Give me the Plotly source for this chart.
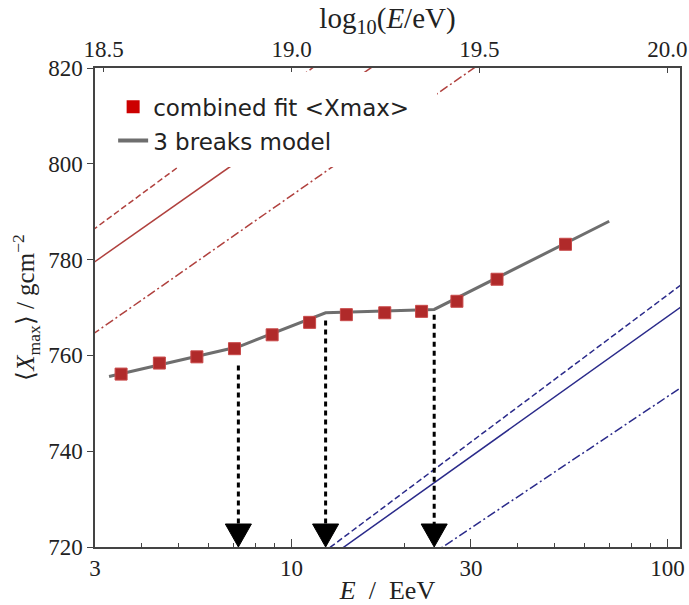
import numpy as np
import plotly.graph_objects as go

# ---------------- data ----------------
# combined fit <Xmax> points (E in EeV, Xmax in g/cm^2)
E_data = [3.52, 4.45, 5.60, 7.05, 8.88, 11.17, 13.99, 17.70, 22.18, 27.54, 35.21, 53.56]
X_data = [756.1, 758.4, 759.7, 761.4, 764.3, 766.9, 768.5, 768.9, 769.2, 771.3, 775.9, 783.2]

# 3 breaks model: node energies and Xmax values
E_model = [3.27, 7.22, 12.32, 23.96, 70.0]
X_model = [755.6, 761.8, 768.9, 769.6, 788.0]

# break arrows: energy of break and Xmax where the dotted arrow starts
E_breaks = [7.22, 12.32, 23.96]
X_arrow_start = [757.9, 767.3, 768.5]

# reference predictions: Xmax at 10 EeV and elongation rate per decade
pred_names = ["p dashed", "p solid", "p dashdot", "Fe dashed", "Fe solid", "Fe dashdot"]
pred_X10 = [816.8, 808.4, 793.4, 713.9, 712.2, 698.9]
pred_D = [57.9, 55.1, 54.8, 58.7, 55.9, 52.5]
pred_kind = ["p", "p", "p", "Fe", "Fe", "Fe"]
pred_dash = ["6px,3px", "solid", "9px,3px,2px,3px", "6px,3px", "solid", "9px,3px,2px,3px"]

x_ticks = [3, 10, 30, 100]
x_minor = [4, 5, 6, 7, 8, 9, 20, 40, 50, 60, 70, 80, 90]
y_ticks = [720, 740, 760, 780, 800, 820]
top_ticks = [18.5, 19.0, 19.5, 20.0]
top_labels = ["18.5", "19.0", "19.5", "20.0"]

E_min, E_max = 3.0, 108.0
Y_min, Y_max = 720, 820

# ---------------- styles ----------------
RED_LINE = "#b0413e"
BLUE_LINE = "#2a2a8a"
SQ = "#b02a2a"
GREY = "#6e6e6e"
SERIF = "Liberation Serif"
SANS = "DejaVu Sans"

fig = go.Figure()

# prediction lines
E_grid = np.array([E_min * 0.9, E_max * 1.1])
for name, x10, d, kind, dash in zip(pred_names, pred_X10, pred_D, pred_kind, pred_dash):
    fig.add_trace(go.Scatter(
        x=E_grid, y=x10 + d * np.log10(E_grid / 10.0),
        mode="lines", line=dict(color=RED_LINE if kind == "p" else BLUE_LINE, width=1.5, dash=dash),
        showlegend=False, hoverinfo="skip"))

# dotted arrows
tri_half = 0.0347   # half width in decades
tri_h = 4.8         # height in g/cm^2
for eb, xs in zip(E_breaks, X_arrow_start):
    fig.add_trace(go.Scatter(
        x=[eb, eb], y=[xs, Y_min + tri_h], mode="lines",
        line=dict(color="black", width=3, dash="5px,4px"),
        showlegend=False, hoverinfo="skip"))
    fig.add_trace(go.Scatter(
        x=[eb * 10 ** (-tri_half), eb * 10 ** tri_half, eb, eb * 10 ** (-tri_half)],
        y=[Y_min + tri_h, Y_min + tri_h, Y_min, Y_min + tri_h],
        mode="lines", fill="toself", fillcolor="black",
        line=dict(color="black", width=1), showlegend=False, hoverinfo="skip"))

# model line
fig.add_trace(go.Scatter(
    x=E_model, y=X_model, mode="lines", line=dict(color=GREY, width=3),
    name="3 breaks model", showlegend=False, hoverinfo="skip"))

# data squares
fig.add_trace(go.Scatter(
    x=E_data, y=X_data, mode="markers",
    marker=dict(symbol="square", size=12, color=SQ, line=dict(color="#c84848", width=1)),
    showlegend=False))

# legend entries
fig.add_trace(go.Scatter(
    x=[None], y=[None], mode="markers", name="combined fit &lt;Xmax&gt;",
    marker=dict(symbol="square", size=13, color="#cc0000"), legendgroup="a"))
fig.add_trace(go.Scatter(
    x=[None], y=[None], mode="lines", name="3 breaks model",
    line=dict(color=GREY, width=4), legendgroup="b"))

# invisible trace for top axis
fig.add_trace(go.Scatter(
    x=top_ticks, y=[None] * len(top_ticks), xaxis="x2", yaxis="y",
    mode="markers", showlegend=False, hoverinfo="skip", marker=dict(opacity=0)))

TICKF = dict(family=SERIF, size=23, color="#222")
TITLEF = dict(family=SERIF, size=26, color="#222")

fig.update_layout(
    width=689, height=605,
    margin=dict(l=95, r=9, t=68, b=58),
    plot_bgcolor="white", paper_bgcolor="white",
    xaxis=dict(
        type="log", range=[np.log10(E_min), np.log10(E_max)], automargin=False,
        tickvals=x_ticks, ticktext=[str(v) for v in x_ticks],
        ticks="inside", ticklen=8, tickwidth=1, tickcolor="#444",
        minor=dict(tickvals=x_minor, ticks="inside", ticklen=4, tickcolor="#444"),
        showline=True, linecolor="#444", linewidth=1.5, mirror=True,
        showgrid=False, zeroline=False,
        tickfont=TICKF,
        title=dict(text="<i>E</i>  /  EeV", font=TITLEF, standoff=0),
    ),
    xaxis2=dict(
        overlaying="x", side="top", range=[18 + np.log10(E_min), 18 + np.log10(E_max)],
        automargin=False,
        tickvals=top_ticks, ticktext=top_labels,
        ticks="inside", ticklen=5, tickcolor="#444",
        showline=True, linecolor="#444", linewidth=1.5,
        showgrid=False, zeroline=False,
        tickfont=TICKF,
        title=dict(text="log<sub>10</sub>(<i>E</i>/eV)", font=dict(family=SERIF, size=29, color="#222"), standoff=0),
    ),
    yaxis=dict(
        range=[Y_min, Y_max], tickvals=y_ticks, automargin=False,
        ticks="outside", ticklen=6, tickcolor="#444",
        showline=True, linecolor="#444", linewidth=1.5, mirror=True,
        showgrid=False, zeroline=False,
        tickfont=TICKF,
        title=dict(text="⟨<i>X</i><sub>max</sub>⟩ / gcm<sup>−2</sup>", font=dict(family=SERIF, size=25, color="#222"), standoff=6),
    ),
    shapes=[dict(type="rect", xref="paper", yref="paper", x0=0.0085, x1=0.5846, y0=0.7933, y1=0.9916,
                 fillcolor="white", line=dict(width=0), layer="above")],
    legend=dict(
        x=0.031, y=0.964, xanchor="left", yanchor="top",
        bgcolor="rgba(0,0,0,0)", borderwidth=0,
        font=dict(family=SANS, size=23, color="#222"),
        traceorder="grouped", tracegroupgap=1,
    ),
)

fig.write_html(
    "out.html",
    config={"displayModeBar": False},
    post_script="document.body.style.margin='0';document.body.style.overflow='hidden';",
)
